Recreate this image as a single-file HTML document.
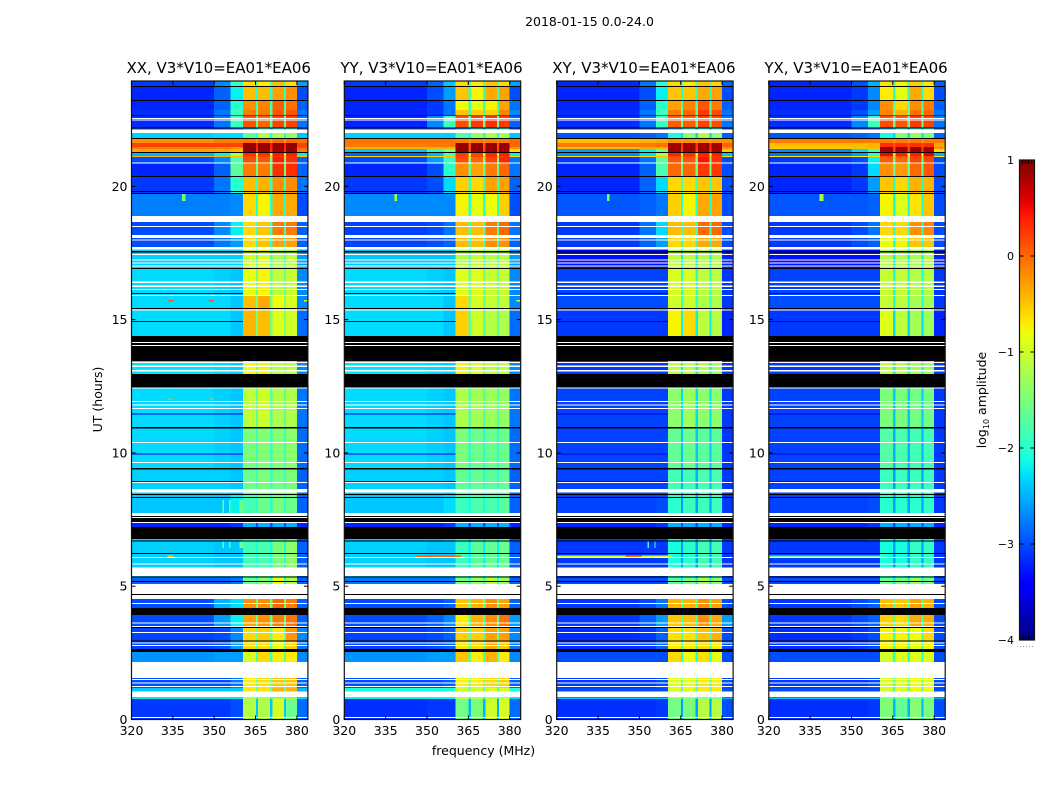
<!DOCTYPE html>
<html lang="en">
<head>
<meta charset="utf-8">
<title>2018-01-15 spectrogram panels</title>
<style>
html,body{margin:0;padding:0;background:#fff;}
svg{display:block;}
text{font-family:"DejaVu Sans","Liberation Sans",sans-serif;fill:#000;}
</style>
</head>
<body>
<svg id="chart" xmlns="http://www.w3.org/2000/svg" width="1050" height="800" viewBox="0 0 1050 800">
  <rect width="1050" height="800" fill="#fff"/>
  <text x="589.500" y="26" font-size="12.500" text-anchor="middle">2018-01-15 0.0-24.0</text>
  <text x="483.500" y="755" font-size="12.500" text-anchor="middle">frequency (MHz)</text>
  <text transform="translate(102,399.500) rotate(-90)" font-size="12.500" text-anchor="middle">UT (hours)</text>
  <text transform="translate(986,400) rotate(-90)" font-size="12.500" text-anchor="middle">log<tspan font-size="8" dy="3">10</tspan><tspan dy="-3"> amplitude</tspan></text>
  <g id="panels"></g>
  <g id="colorbar"></g>
</svg>
<script>
// ---- categories and tick labels ----
const polarizations = ["XX", "YY", "XY", "YX"];
const panelTitleSuffix = ", V3*V10=EA01*EA06";
const freqTicks = [320, 335, 350, 365, 380];
const hourTicks = [0, 5, 10, 15, 20];
const colorbarTicks = [1, 0, -1, -2, -3, -4];

// frequency band edges (MHz)
const freqEdges = [320, 350, 356, 360.4, 365.1, 365.9, 370.3, 371.2, 375.4, 376.1, 380, 384];
// which value in a row each frequency band reads:
// 0 low, 1 near, 2 transition, 3-6 windows, 7 upper edge, 8 notch
const bandValueIndex = [0, 1, 2, 3, 8, 4, 8, 5, 8, 6, 7];
// time band edges (UT hours), top to bottom
const timeEdges = [23.95, 23.72, 23.20, 22.86, 22.64, 22.19, 22.00, 21.79, 21.62, 21.47, 21.40, 21.29, 21.14, 21.10, 20.87, 20.35, 19.71, 18.89, 18.17, 17.65, 16.94, 15.89, 15.40, 14.42, 13.45, 12.96, 12.43, 10.97, 9.40, 8.46, 7.75, 7.22, 6.70, 5.68, 5.35, 5.08, 4.52, 4.22, 3.92, 3.43, 2.94, 2.53, 2.16, 1.56, 1.18, 1.05, 0.83, 0.77, 0];

// ---- log10 amplitude per time band: [low, near, trans, w1, w2, w3, w4, edge, notch] ----
const valuesXX = [
[-3.1,-2.7,-1.9,-0.65,-0.75,-0.45,-0.65,-2.6,-1.7],
[-3.2,-2.9,-2.2,-0.45,-0.45,-0.3,-0.2,-3.0,-2.0],
[-3.2,-2.9,-2.0,-0.2,-0.15,0.05,-0.05,-2.9,-1.8],
[-3.15,-2.8,-1.9,-0.1,-0.1,0.1,0.1,-2.8,-1.7],
[-3.15,-2.8,-1.9,0.1,0,0.2,0.2,-2.8,-1.7],
[-3,-3,-2.9,-2.5,-2,-2,-2,-3,-2.5],
[-2.35,-2.3,-2.3,-1.7,-1.2,-1.2,-1.3,-2.4,-2.1],
[-0.2,-0.1,-0.1,-0.05,0,0,0,-0.05,-0.2],
[0.2,0.2,0.2,0.9,0.9,0.9,0.9,0.2,0.4],
[-0.1,-0.15,-0.25,0.9,0.85,0.85,0.9,0,0.3],
[-0.3,-0.3,-0.4,0.9,0.85,0.85,0.9,-0.1,0.3],
[-2.5,-2.2,-1.2,0.3,0.3,0.4,0.4,-2.2,-1.0],
[-0.4,-0.4,-0.4,0.2,0.2,0.3,0.3,-0.5,-0.5],
[-3.0,-2.7,-1.8,0.15,0.1,0.4,0.3,-2.9,-1.5],
[-3.2,-2.9,-1.7,-0.1,-0.1,0.3,0.3,-2.9,-1.6],
[-3.1,-2.8,-2.0,-0.45,-0.4,-0.2,-0.2,-2.8,-1.9],
[-2.75,-2.75,-2.7,-0.6,-0.75,-0.35,-0.35,-3.0,-2.0],
[-3.0,-2.7,-2.2,-0.6,-0.5,-0.1,-0.1,-2.9,-1.9],
[-3.0,-2.8,-2.6,-0.6,-0.5,-0.3,-0.3,-2.9,-2.0],
[-2.35,-2.35,-2.35,-1.0,-0.9,-1.2,-1.1,-2.6,-1.8],
[-2.3,-2.35,-2.4,-0.85,-0.75,-1.1,-1.05,-2.7,-1.6],
[-2.3,-2.3,-2.4,-0.45,-0.35,-0.8,-0.95,-2.7,-1.5],
[-2.3,-2.3,-2.4,-0.4,-0.45,-0.9,-1.0,-2.85,-1.5],
[-2.3,-2.3,-2.4,-0.4,-0.45,-0.9,-1.0,-2.85,-1.5],
[-2.25,-2.3,-2.35,-0.8,-0.75,-1.1,-1.1,-2.7,-1.5],
[-2.25,-2.3,-2.35,-0.8,-0.75,-1.1,-1.1,-2.7,-1.5],
[-2.3,-2.35,-2.4,-1.1,-1.0,-1.2,-1.2,-2.8,-1.7],
[-2.3,-2.35,-2.4,-1.5,-1.45,-1.45,-1.4,-2.85,-1.9],
[-2.35,-2.35,-2.4,-1.6,-1.5,-1.55,-1.5,-2.9,-1.9],
[-2.4,-2.4,-2.2,-1.85,-1.6,-1.5,-1.6,-2.9,-2.0],
[-3.2,-3.2,-3.1,-2.5,-2.5,-2.5,-2.5,-3.2,-3.0],
[-2.4,-2.4,-2.3,-2.0,-2.0,-1.8,-1.7,-3.0,-2.2],
[-2.35,-2.4,-2.4,-1.85,-1.8,-1.5,-1.4,-2.9,-2.1],
[-2.35,-2.4,-2.4,-1.85,-1.8,-1.5,-1.4,-2.9,-2.1],
[-2.9,-2.9,-2.8,-1.6,-1.4,-0.8,-1.2,-2.9,-2.0],
[-2.9,-2.9,-2.8,-1.6,-1.4,-0.8,-1.2,-2.9,-2.0],
[-3.0,-2.5,-2.3,-0.2,-0.2,0,-0.1,-2.9,-1.5],
[-3.0,-2.5,-2.3,-0.2,-0.2,0,-0.1,-2.9,-1.5],
[-3.0,-2.6,-2.2,-0.3,-0.2,-0.1,-0.05,-2.9,-1.6],
[-3.05,-3.0,-2.7,-0.6,-0.55,-0.7,-0.25,-2.7,-1.6],
[-3.05,-3.0,-2.6,-0.6,-0.6,-0.8,-0.55,-2.8,-1.8],
[-2.65,-2.6,-2.6,-0.95,-0.6,-0.7,-0.7,-2.7,-1.8],
[-3,-3,-2.8,-0.7,-0.65,-0.5,-0.5,-2.9,-1.6],
[-3,-3,-2.8,-0.7,-0.65,-0.5,-0.5,-2.9,-1.6],
[-2.4,-2.4,-2.4,-0.7,-0.65,-0.4,-0.4,-2.5,-1.6],
[-2.4,-2.4,-2.4,-0.7,-0.65,-0.4,-0.4,-2.5,-1.6],
[-2.2,-2.2,-2.2,-1.2,-1.2,-1.2,-1.2,-2.3,-1.8],
[-3.1,-3.1,-3.0,-1.15,-1.2,-0.95,-1.6,-2.85,-2.4]
];
const valuesYY = [
[-3.1,-2.9,-2.4,-0.6,-0.7,-0.5,-0.6,-2.6,-1.7],
[-3.2,-3.0,-2.6,-0.5,-0.75,-0.35,-0.3,-3.0,-1.9],
[-3.2,-3.1,-2.8,-0.8,-0.85,-0.75,-0.3,-2.8,-1.9],
[-3.2,-3.1,-2.8,-0.5,-0.55,-0.55,-0.15,-2.7,-1.9],
[-3.2,-2.7,-1.9,0.15,0.25,0.3,0.25,-2.9,-1.6],
[-3,-3,-2.9,-2.5,-2,-2,-2,-3,-2.5],
[-2.35,-2.35,-2.35,-1.75,-1.3,-1.2,-1.25,-2.4,-2.1],
[-0.05,-0.05,-0.05,-0.1,-0.1,-0.1,-0.1,0,-0.2],
[-0.1,-0.1,-0.1,0.9,0.9,0.9,0.9,0,0.1],
[-0.4,-0.4,-0.4,0.9,0.9,0.9,0.9,-0.2,0.1],
[-2.4,-2.0,-1.6,0.9,0.9,0.9,0.9,-0.6,0.2],
[-2.9,-2.5,-1.8,0.25,0.2,0.35,0.4,-2.2,-1.0],
[-0.6,-0.6,-0.5,0.2,0.2,0.3,0.3,-0.6,-0.5],
[-3.0,-2.6,-1.9,0.15,0,0.2,0.35,-2.8,-1.4],
[-3.2,-3.0,-2.0,-0.2,-0.3,-0.1,0,-2.8,-1.7],
[-3.1,-3.0,-2.3,-0.55,-0.6,-0.3,-0.3,-2.9,-1.9],
[-2.7,-2.7,-2.7,-0.75,-0.85,-0.8,-0.55,-3.0,-2.0],
[-3.05,-3.0,-2.8,-0.45,-0.45,-0.1,0,-2.8,-1.8],
[-3.05,-3.0,-2.9,-0.45,-0.45,-0.2,-0.2,-2.9,-1.9],
[-2.4,-2.4,-2.4,-1.15,-1.05,-1.15,-1.1,-2.6,-1.8],
[-2.3,-2.35,-2.4,-0.9,-0.9,-1.05,-1.05,-2.7,-1.6],
[-2.3,-2.3,-2.4,-0.6,-0.95,-1.05,-1.1,-2.7,-1.6],
[-2.3,-2.3,-2.4,-0.55,-1.0,-1.15,-1.2,-2.85,-1.7],
[-2.3,-2.3,-2.4,-0.55,-1.0,-1.15,-1.2,-2.85,-1.7],
[-2.25,-2.3,-2.35,-0.75,-0.9,-1.1,-1.1,-2.7,-1.6],
[-2.25,-2.3,-2.35,-0.75,-0.9,-1.1,-1.1,-2.7,-1.6],
[-2.3,-2.35,-2.4,-1.2,-1.25,-1.3,-1.35,-2.8,-1.8],
[-2.3,-2.35,-2.4,-1.5,-1.6,-1.6,-1.6,-2.85,-2.0],
[-2.35,-2.35,-2.4,-1.65,-1.65,-1.7,-1.65,-2.9,-2.0],
[-2.4,-2.4,-2.3,-1.9,-1.8,-1.8,-1.7,-2.9,-2.1],
[-3.2,-3.2,-3.1,-2.5,-2.5,-2.5,-2.5,-3.2,-3.0],
[-2.4,-2.4,-2.3,-2.0,-2.0,-1.9,-1.8,-3.0,-2.3],
[-2.35,-2.4,-2.4,-1.9,-1.7,-1.65,-1.6,-2.9,-2.2],
[-2.35,-2.4,-2.4,-1.9,-1.7,-1.65,-1.6,-2.9,-2.2],
[-2.8,-2.8,-2.8,-1.5,-1.3,-1.1,-1.3,-2.9,-2.0],
[-2.8,-2.8,-2.8,-1.5,-1.3,-1.1,-1.3,-2.9,-2.0],
[-3.0,-3.0,-2.9,-0.5,-0.4,-0.2,-0.3,-2.9,-1.6],
[-3.0,-3.0,-2.9,-0.5,-0.4,-0.2,-0.3,-2.9,-1.6],
[-3.0,-2.9,-2.7,-0.7,-0.4,-0.2,-0.05,-2.6,-1.7],
[-3.05,-3.0,-2.9,-0.55,-0.55,-0.3,-0.3,-2.7,-1.7],
[-3.05,-3.0,-2.9,-0.65,-0.6,-0.35,-0.5,-2.8,-1.8],
[-2.65,-2.6,-2.6,-0.5,-0.7,-0.4,-0.7,-2.7,-1.8],
[-3,-3,-2.9,-0.75,-0.7,-0.6,-0.55,-2.9,-1.6],
[-3,-3,-2.9,-0.75,-0.7,-0.6,-0.55,-2.9,-1.6],
[-2.1,-2.1,-2.1,-1.0,-1.0,-0.9,-0.9,-2.1,-1.6],
[-2.1,-2.1,-2.1,-1.0,-1.0,-0.9,-0.9,-2.1,-1.6],
[-2.2,-2.2,-2.2,-1.2,-1.2,-1.2,-1.2,-2.3,-1.8],
[-3.15,-3.1,-3.1,-1.55,-1.5,-1.0,-0.95,-2.85,-2.5]
];
const valuesXY = [
[-3.2,-2.8,-2.0,-0.6,-0.7,-0.5,-0.6,-2.9,-1.8],
[-3.2,-3.0,-2.2,-0.5,-0.5,-0.35,-0.3,-3.0,-2.0],
[-3.2,-2.9,-2.0,-0.3,-0.15,0.1,-0.1,-2.9,-1.8],
[-3.15,-2.8,-1.9,-0.1,0,0.25,0.15,-2.8,-1.7],
[-3.15,-2.8,-1.9,0.05,0.05,0.2,0.15,-2.8,-1.7],
[-3.1,-3,-2.9,-2.5,-2,-2,-2,-3,-2.5],
[-2.95,-2.9,-2.8,-2.1,-1.4,-1.2,-1.4,-2.9,-2.3],
[-0.45,-0.4,-0.35,-0.2,-0.2,-0.2,-0.2,-0.2,-0.3],
[-0.1,-0.1,-0.05,0.85,0.85,0.85,0.85,0,0.3],
[-0.45,-0.4,-0.4,0.85,0.85,0.85,0.85,-0.2,0.2],
[-2.6,-2.2,-1.7,0.85,0.85,0.85,0.85,-0.5,0.2],
[-2.7,-2.3,-1.3,0.35,0.3,0.4,0.4,-2.4,-1.0],
[-0.6,-0.6,-0.5,0.2,0.2,0.3,0.3,-0.6,-0.5],
[-3.1,-2.8,-1.7,0.1,0.1,0.45,0.3,-3,-1.5],
[-3.2,-2.9,-1.8,0,0,0.25,0.25,-3,-1.6],
[-3.2,-2.9,-2.3,-0.6,-0.6,-0.5,-0.5,-3,-1.9],
[-2.95,-2.9,-2.8,-0.55,-0.75,-0.35,-0.3,-3,-2],
[-3.1,-2.8,-2.3,-0.45,-0.45,0,0,-3,-1.9],
[-3.1,-2.9,-2.6,-0.6,-0.6,-0.35,-0.35,-3,-2],
[-3.3,-3.3,-3.3,-1.1,-1.1,-1.15,-1.15,-3.2,-2.2],
[-3.05,-3.05,-3.05,-0.95,-0.95,-1.1,-1.1,-3.1,-2],
[-3.0,-3,-3,-1.0,-1.0,-1.2,-1.2,-3.1,-1.9],
[-3.1,-3.1,-3.1,-0.75,-0.6,-1.1,-1.15,-3.2,-2.2],
[-3.1,-3.1,-3.1,-0.75,-0.6,-1.1,-1.15,-3.2,-2.2],
[-3.1,-3.1,-3.1,-1.1,-1.1,-1.2,-1.25,-3.1,-2.2],
[-3.1,-3.1,-3.1,-1.1,-1.1,-1.2,-1.25,-3.1,-2.2],
[-3.05,-3.05,-3.05,-1.4,-1.3,-1.4,-1.4,-3.1,-2.3],
[-3.05,-3.05,-3.05,-1.65,-1.6,-1.7,-1.7,-3.1,-2.4],
[-3.05,-3.05,-3.05,-1.85,-1.85,-1.8,-1.8,-3.1,-2.5],
[-3.05,-3.05,-3.0,-2.0,-1.9,-1.9,-1.9,-3.1,-2.6],
[-3.2,-3.2,-3.1,-2.5,-2.5,-2.5,-2.5,-3.2,-3.0],
[-3.1,-3.1,-3.0,-2.1,-2.0,-1.9,-1.9,-3.1,-2.6],
[-3.1,-3.1,-3.1,-2.1,-2.0,-1.85,-1.85,-3.1,-2.6],
[-3.1,-3.1,-3.1,-2.1,-2.0,-1.85,-1.85,-3.1,-2.6],
[-3.0,-3.0,-3.0,-1.7,-1.5,-1.2,-1.4,-3.0,-2.2],
[-3.0,-3.0,-3.0,-1.7,-1.5,-1.2,-1.4,-3.0,-2.2],
[-3.1,-3.0,-2.8,-0.4,-0.4,-0.2,-0.3,-3.0,-1.7],
[-3.1,-3.0,-2.8,-0.4,-0.4,-0.2,-0.3,-3.0,-1.7],
[-3.1,-2.9,-2.6,-0.5,-0.45,-0.2,-0.35,-2.6,-1.8],
[-3.15,-3.1,-2.9,-0.65,-0.65,-0.5,-0.4,-3.0,-1.8],
[-3.15,-3.1,-2.9,-0.7,-0.7,-0.6,-0.7,-3.0,-2.0],
[-3.0,-3.0,-3.0,-0.6,-0.8,-0.65,-0.85,-3.0,-2.0],
[-3.1,-3.1,-3.0,-0.9,-0.85,-0.7,-0.7,-3.0,-1.8],
[-3.1,-3.1,-3.0,-0.9,-0.85,-0.7,-0.7,-3.0,-1.8],
[-3.0,-3.0,-3.0,-0.9,-0.85,-0.7,-0.7,-3.0,-1.8],
[-3.0,-3.0,-3.0,-0.9,-0.85,-0.7,-0.7,-3.0,-1.8],
[-2.4,-2.4,-2.4,-1.4,-1.4,-1.4,-1.4,-2.5,-2.0],
[-3.15,-3.15,-3.1,-1.55,-1.5,-1.15,-1.15,-3.0,-2.6]
];
const valuesYX = [
[-3.2,-3.0,-2.5,-0.65,-0.75,-0.55,-0.7,-2.9,-1.8],
[-3.2,-3.1,-2.7,-0.7,-0.85,-0.35,-0.6,-3.0,-2.0],
[-3.2,-3.1,-2.7,-0.2,-0.6,-0.2,-0.1,-2.9,-1.8],
[-3.15,-3.0,-2.6,-0.15,-0.4,-0.05,0,-2.8,-1.7],
[-3.15,-2.7,-1.9,0.15,0.1,0.25,0.2,-2.8,-1.7],
[-3.1,-3,-2.9,-2.5,-2,-2,-2,-3,-2.5],
[-2.95,-2.9,-2.8,-2.1,-1.4,-1.3,-1.5,-2.9,-2.3],
[-0.1,-0.1,-0.1,-0.1,-0.1,-0.1,-0.1,-0.1,-0.2],
[-0.45,-0.45,-0.4,0.3,0.3,0.3,0.3,-0.3,0.1],
[-0.5,-0.45,-0.45,0.85,0.85,0.85,0.85,-0.25,0.2],
[-2.7,-2.3,-1.9,0.8,0.8,0.85,0.85,-0.6,0.2],
[-2.8,-2.6,-2.0,0.5,0.4,0.4,0.55,-2.5,-1.1],
[-0.7,-0.7,-0.6,0.15,0.15,0.25,0.25,-0.7,-0.6],
[-3.1,-3.0,-2.2,0.05,0,0.2,0.2,-3,-1.6],
[-3.2,-3.1,-2.3,-0.2,-0.25,0,0.1,-3,-1.7],
[-3.2,-3.1,-2.6,-0.5,-0.6,-0.4,-0.4,-3,-2],
[-2.95,-2.95,-2.9,-0.75,-0.9,-0.65,-0.5,-3,-2.1],
[-3.1,-3.0,-2.8,-0.6,-0.6,-0.2,-0.15,-3,-2],
[-3.1,-3.0,-2.9,-0.8,-0.75,-0.5,-0.5,-3,-2.1],
[-3.3,-3.3,-3.3,-1.15,-1.15,-1.2,-1.15,-3.2,-2.2],
[-3.05,-3.05,-3.05,-1.05,-1.05,-1.15,-1.15,-3.1,-2.1],
[-3.0,-3,-3,-1.05,-1.1,-1.25,-1.25,-3.1,-2],
[-3.1,-3.1,-3.1,-0.9,-1.1,-1.25,-1.3,-3.2,-2.3],
[-3.1,-3.1,-3.1,-0.9,-1.1,-1.25,-1.3,-3.2,-2.3],
[-3.1,-3.1,-3.1,-1.1,-1.15,-1.25,-1.25,-3.1,-2.2],
[-3.1,-3.1,-3.1,-1.1,-1.15,-1.25,-1.25,-3.1,-2.2],
[-3.05,-3.05,-3.05,-1.5,-1.5,-1.55,-1.55,-3.1,-2.4],
[-3.05,-3.05,-3.05,-1.75,-1.8,-1.85,-1.85,-3.1,-2.5],
[-3.05,-3.05,-3.05,-1.9,-1.9,-1.9,-1.9,-3.1,-2.6],
[-3.05,-3.05,-3.0,-2.0,-2.0,-2.0,-1.95,-3.1,-2.6],
[-3.2,-3.2,-3.1,-2.5,-2.5,-2.5,-2.5,-3.2,-3.0],
[-3.1,-3.1,-3.0,-2.1,-2.1,-2.0,-2.0,-3.1,-2.6],
[-3.1,-3.1,-3.1,-2.1,-2.1,-1.95,-1.95,-3.1,-2.6],
[-3.1,-3.1,-3.1,-2.1,-2.1,-1.95,-1.95,-3.1,-2.6],
[-3.0,-3.0,-3.0,-1.6,-1.5,-1.3,-1.5,-3.0,-2.2],
[-3.0,-3.0,-3.0,-1.6,-1.5,-1.3,-1.5,-3.0,-2.2],
[-3.1,-3.0,-2.9,-0.45,-0.5,-0.3,-0.4,-3.0,-1.7],
[-3.1,-3.0,-2.9,-0.45,-0.5,-0.3,-0.4,-3.0,-1.7],
[-3.1,-3.0,-2.9,-0.55,-0.6,-0.35,-0.35,-3.0,-1.8],
[-3.15,-3.1,-3.0,-0.75,-0.75,-0.8,-0.6,-3.0,-1.9],
[-3.15,-3.1,-3.0,-0.75,-0.75,-0.85,-0.75,-3.0,-2.0],
[-3.0,-3.0,-3.0,-1.0,-0.9,-0.9,-0.9,-3.0,-2.0],
[-3.1,-3.1,-3.0,-0.95,-0.9,-0.8,-0.8,-3.0,-1.8],
[-3.1,-3.1,-3.0,-0.95,-0.9,-0.8,-0.8,-3.0,-1.8],
[-3.0,-3.0,-3.0,-0.95,-0.9,-0.8,-0.8,-3.0,-1.8],
[-3.0,-3.0,-3.0,-0.95,-0.9,-0.8,-0.8,-3.0,-1.8],
[-2.4,-2.4,-2.4,-1.5,-1.5,-1.5,-1.5,-2.5,-2.0],
[-3.15,-3.15,-3.1,-1.5,-1.65,-1.45,-1.5,-3.0,-2.5]
];

// flagged (no data) spans in UT hours: [later, earlier]
const whiteBands = [[22.56,22.53],[22.51,22.47],[22.13,22.00],[20.89,20.85],[18.89,18.66],[18.51,18.47],[18.17,18.06],[18.00,17.97],[17.72,17.63],[17.46,17.42],[17.25,17.22],[17.14,17.10],[17.03,16.99],[16.42,16.38],[16.28,16.23],[16.15,16.11],[15.92,15.89],[15.38,15.34],[14.16,14.12],[14.05,14.01],[13.41,13.37],[13.27,13.23],[13.11,13.06],[12.45,12.42],[11.95,11.91],[11.82,11.78],[11.68,11.65],[10.41,10.37],[9.66,9.62],[8.91,8.87],[8.65,8.51],[7.75,7.63],[7.60,7.56],[7.41,7.37],[6.10,6.06],[5.85,5.81],[5.70,5.38],[5.08,4.71],[4.67,4.52],[4.37,4.33],[3.64,3.60],[3.51,3.47],[3.28,3.24],[2.89,2.85],[2.79,2.76],[2.16,1.56],[1.52,1.48],[1.39,1.35],[1.26,1.22],[1.05,0.84],[0.09,0.05]];
const blackBands = [[23.76,23.72],[23.24,23.20],[22.66,22.63],[22.21,22.17],[21.81,21.77],[21.29,21.25],[20.39,20.35],[19.82,19.79],[19.75,19.71],[17.57,17.52],[16.94,16.90],[15.44,15.40],[14.38,14.16],[14.12,14.05],[14.01,13.44],[12.96,12.46],[10.97,10.91],[9.43,9.38],[8.46,8.42],[8.35,8.31],[7.63,7.60],[7.56,7.41],[7.22,6.77],[6.71,6.68],[6.25,6.21],[5.36,5.33],[5.20,5.16],[4.71,4.67],[4.18,3.92],[3.47,3.43],[2.96,2.93],[2.64,2.53]];
// thin low-amplitude dips across the low band (UT hours)
const dipTimes = [15.99, 14.94, 11.47, 9.97, 8.95];
const dipValue = -3.6;

// narrow interference features
const rfiPanel = [1,0,0,0,2,2,3,0,1,2,3,0,0,0,0,0,0,2,2,0,0,0,1];
const rfiHourTop = [6.16,6.16,15.73,15.73,6.16,6.16,6.16,19.72,19.72,19.72,19.72,8.23,8.23,8.23,6.70,6.70,6.70,6.70,6.70,12.05,12.05,15.73,15.73];
const rfiHourBottom = [6.10,6.10,15.67,15.67,6.10,6.10,6.10,19.45,19.45,19.45,19.45,7.75,7.75,7.75,6.43,6.43,6.43,6.43,6.43,11.99,11.99,15.67,15.67];
const rfiFreqStart = [345.6,333,333.5,348.2,320,345,320,338.4,338.2,338.2,338.4,353,355.4,359.2,353,355.4,359.2,353,355.4,333.5,348.5,382.5,382.5];
const rfiFreqEnd = [362.6,335,335,349.7,362,351,362,339.6,339.2,339.2,339.8,353.6,356,360.4,353.6,356,360.4,353.5,355.9,335,349.5,384,384];
const rfiValues = [0,-0.5,0.1,0.1,-1.0,-0.1,-1.7,-1.5,-1.2,-1.5,-1.2,-1.6,-1.6,-1.6,-1.6,-1.6,-1.6,-1.9,-1.9,-0.3,-0.3,-0.8,-0.8];

const seriesByPol = [valuesXX, valuesYY, valuesXY, valuesYX];

// ---- layout ----
const NS = "http://www.w3.org/2000/svg";
const panelLefts = [131.5, 344.3, 556.7, 768.8];
const AX_W = 176.4, AX_TOP = 81, AX_H = 638.5;
const FREQ_MIN = 320, FREQ_MAX = 384, HOUR_MAX = 23.95;
const CB_LEFT = 1019.5, CB_W = 15, CB_TOP = 160, CB_H = 480;
const VMIN = -4, VMAX = 1;

function freqX(p, f){ return panelLefts[p] + (f - FREQ_MIN) / (FREQ_MAX - FREQ_MIN) * AX_W; }
function hourY(t){ return AX_TOP + (HOUR_MAX - t) / HOUR_MAX * AX_H; }
function valueY(v){ return CB_TOP + (VMAX - v) / (VMAX - VMIN) * CB_H; }

function ramp(f, pts){
  for (let i = 1; i < pts.length; i++) {
    if (f <= pts[i][0]) {
      const a = pts[i-1], b = pts[i];
      return a[1] + (b[1]-a[1]) * (f-a[0]) / (b[0]-a[0]);
    }
  }
  return pts[pts.length-1][1];
}
function jet(v){
  const f = Math.max(0, Math.min(1, (v - VMIN) / (VMAX - VMIN)));
  const r = ramp(f, [[0,0],[0.35,0],[0.66,1],[0.89,1],[1,0.5]]);
  const g = ramp(f, [[0,0],[0.125,0],[0.375,1],[0.64,1],[0.91,0],[1,0]]);
  const b = ramp(f, [[0,0.5],[0.11,1],[0.34,1],[0.65,0],[1,0]]);
  return "rgb(" + Math.round(r*255) + "," + Math.round(g*255) + "," + Math.round(b*255) + ")";
}
function mk(tag, attrs, parent){
  const el = document.createElementNS(NS, tag);
  for (const k in attrs) el.setAttribute(k, attrs[k]);
  parent.appendChild(el);
  return el;
}

const panelsRoot = document.getElementById("panels");

polarizations.forEach(function(pol, p){
  const key = pol.toLowerCase();
  const g = mk("g", {}, panelsRoot);
  
  

  const cells = mk("g", {"shape-rendering":"crispEdges"}, g);
  
  

  const rows = seriesByPol[p];
  for (let r = 0; r < rows.length; r++) {
    const y0 = hourY(timeEdges[r]), y1 = hourY(timeEdges[r+1]);
    for (let c = 0; c < bandValueIndex.length; c++) {
      const x0 = freqX(p, freqEdges[c]), x1 = freqX(p, freqEdges[c+1]);
      const v = rows[r][bandValueIndex[c]];
      const cell = mk("rect", {x:x0, y:y0, width:x1-x0, height:y1-y0, fill:jet(v)}, cells);
      
      
    }
  }
  dipTimes.forEach(function(t){
    const dip = mk("rect", {x:freqX(p,FREQ_MIN), y:hourY(t), width:freqX(p,freqEdges[3])-freqX(p,FREQ_MIN), height:1, fill:jet(dipValue)}, cells);
    
    
  });
  rfiValues.forEach(function(v, i){
    if (rfiPanel[i] !== p) return;
    const rfi = mk("rect", {x:freqX(p,rfiFreqStart[i]), y:hourY(rfiHourTop[i]), width:freqX(p,rfiFreqEnd[i])-freqX(p,rfiFreqStart[i]), height:hourY(rfiHourBottom[i])-hourY(rfiHourTop[i]), fill:jet(v)}, cells);
    
    
  });
  whiteBands.forEach(function(b){
    const fl = mk("rect", {x:panelLefts[p], y:hourY(b[0]), width:AX_W, height:hourY(b[1])-hourY(b[0]), fill:"#fff"}, cells);
    
    
  });
  blackBands.forEach(function(b){
    const fl = mk("rect", {x:panelLefts[p], y:hourY(b[0]), width:AX_W, height:hourY(b[1])-hourY(b[0]), fill:"#000"}, cells);
    
    
  });

  const frame = mk("rect", {x:panelLefts[p], y:AX_TOP, width:AX_W, height:AX_H, fill:"none", stroke:"#111", "stroke-width":1.2}, g);
  
  

  const title = mk("text", {x:panelLefts[p] + AX_W/2 - 1, y:73, "font-size":15, "text-anchor":"middle"}, g);
  title.textContent = pol + panelTitleSuffix;
  
  

  freqTicks.forEach(function(f){
    const x = freqX(p, f);
    const t1 = mk("line", {x1:x, x2:x, y1:AX_TOP+AX_H, y2:AX_TOP+AX_H-4, stroke:"#000", "stroke-width":1}, g);
    
    
    const t2 = mk("line", {x1:x, x2:x, y1:AX_TOP, y2:AX_TOP+4, stroke:"#000", "stroke-width":1}, g);
    
    
    const lab = mk("text", {x:x, y:735, "font-size":12.5, "text-anchor":"middle"}, g);
    lab.textContent = String(f);
    
    
  });
  hourTicks.forEach(function(t){
    const y = hourY(t);
    const t1 = mk("line", {x1:panelLefts[p], x2:panelLefts[p]+4, y1:y, y2:y, stroke:"#000", "stroke-width":1}, g);
    
    
    const t2 = mk("line", {x1:panelLefts[p]+AX_W, x2:panelLefts[p]+AX_W-4, y1:y, y2:y, stroke:"#000", "stroke-width":1}, g);
    
    
    const lab = mk("text", {x:panelLefts[p]-4, y:y+4.5, "font-size":12.5, "text-anchor":"end"}, g);
    lab.textContent = String(t);
    
    
  });
});

// ---- colorbar ----
const cb = document.getElementById("colorbar");
const defs = mk("defs", {}, cb);
const grad = mk("linearGradient", {id:"jetRamp", x1:0, y1:1, x2:0, y2:0}, defs);
for (let i = 0; i <= 50; i++) {
  mk("stop", {offset:i/50, "stop-color":jet(VMIN + (VMAX-VMIN)*i/50)}, grad);
}
const cbBar = mk("rect", {x:CB_LEFT, y:CB_TOP, width:CB_W, height:CB_H, fill:"url(#jetRamp)", stroke:"#111", "stroke-width":1.2}, cb);



colorbarTicks.forEach(function(v){
  const y = valueY(v);
  const lab = mk("text", {x:1014, y:y+4, "font-size":11, "text-anchor":"end"}, cb);
  lab.textContent = v < 0 ? "\u2212" + Math.abs(v) : String(v);
  
  
  if (v > VMIN && v < VMAX) {
    const a = mk("line", {x1:CB_LEFT, x2:CB_LEFT+4, y1:y, y2:y, stroke:"#000", "stroke-width":1}, cb);
    
    
    const b = mk("line", {x1:CB_LEFT+CB_W, x2:CB_LEFT+CB_W-4, y1:y, y2:y, stroke:"#000", "stroke-width":1}, cb);
    
    
  }
});
[3, 6, 9, 12].forEach(function(dx){
  const top = mk("line", {x1:CB_LEFT+dx, x2:CB_LEFT+dx, y1:CB_TOP, y2:CB_TOP+4, stroke:"#000", "stroke-width":1}, cb);
  
  
  const bot = mk("line", {x1:CB_LEFT+dx, x2:CB_LEFT+dx, y1:CB_TOP+CB_H, y2:CB_TOP+CB_H-4, stroke:"#000", "stroke-width":1}, cb);
  
  
});
const dots = mk("line", {x1:1017, x2:1035, y1:646.5, y2:646.5, stroke:"#999", "stroke-width":1, "stroke-dasharray":"1 2"}, cb);


</script>
</body>
</html>
